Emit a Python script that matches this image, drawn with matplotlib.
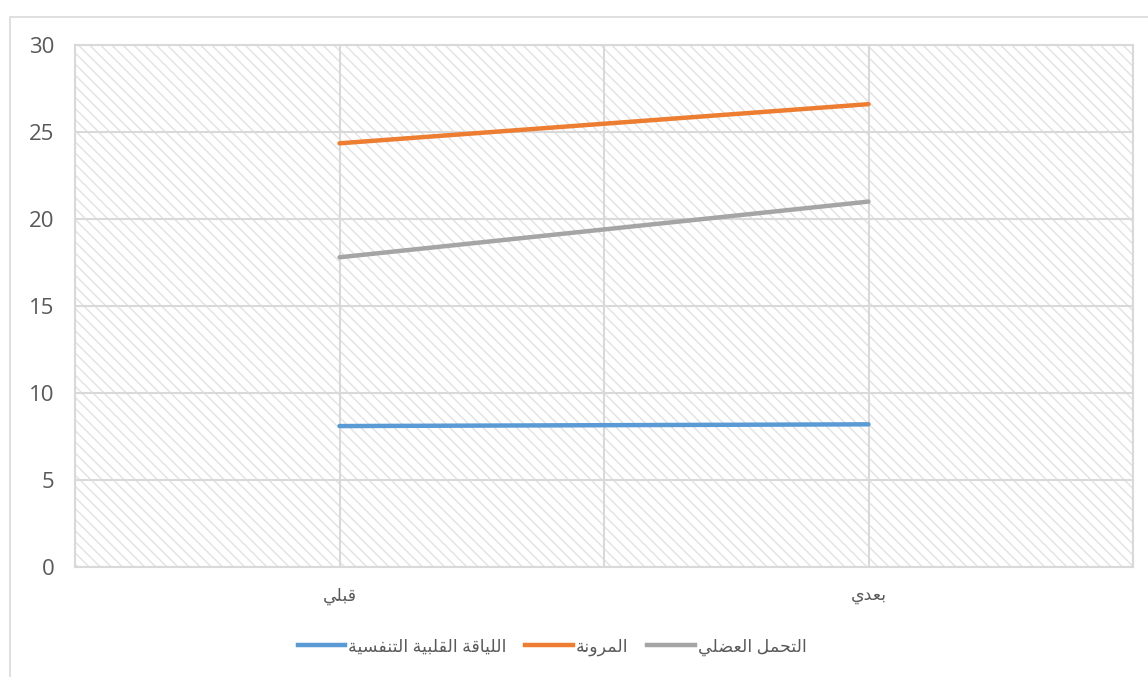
import numpy as np
import matplotlib
matplotlib.use('Agg')
import matplotlib.pyplot as plt
from matplotlib.patches import Rectangle

# data
categories = ['قبلي', 'بعدي']
series_names = ['اللياقة القلبية التنفسية', 'المرونة', 'التحمل العضلي']
cardio = [8.1, 8.2]
flexibility = [24.35, 26.6]
endurance = [17.8, 21.0]
colors = ['#5B9BD5', '#ED7D31', '#A5A5A5']

# minimal arabic shaping (presentation forms, visual order)
FORMS = {
    'ا': ('\ufe8d', '\ufe8e', None, None),
    'ب': ('\ufe8f', '\ufe90', '\ufe91', '\ufe92'),
    'ة': ('\ufe93', '\ufe94', None, None),
    'ت': ('\ufe95', '\ufe96', '\ufe97', '\ufe98'),
    'ح': ('\ufea1', '\ufea2', '\ufea3', '\ufea4'),
    'د': ('\ufea9', '\ufeaa', None, None),
    'ر': ('\ufead', '\ufeae', None, None),
    'س': ('\ufeb1', '\ufeb2', '\ufeb3', '\ufeb4'),
    'ض': ('\ufebd', '\ufebe', '\ufebf', '\ufec0'),
    'ع': ('\ufec9', '\ufeca', '\ufecb', '\ufecc'),
    'ف': ('\ufed1', '\ufed2', '\ufed3', '\ufed4'),
    'ق': ('\ufed5', '\ufed6', '\ufed7', '\ufed8'),
    'ل': ('\ufedd', '\ufede', '\ufedf', '\ufee0'),
    'م': ('\ufee1', '\ufee2', '\ufee3', '\ufee4'),
    'ن': ('\ufee5', '\ufee6', '\ufee7', '\ufee8'),
    'و': ('\ufeed', '\ufeee', None, None),
    'ي': ('\ufef1', '\ufef2', '\ufef3', '\ufef4'),
}


def shape(text):
    out = []
    for i, ch in enumerate(text):
        if ch not in FORMS:
            out.append(ch)
            continue
        prev = text[i - 1] if i > 0 else ''
        nxt = text[i + 1] if i + 1 < len(text) else ''
        jp = prev in FORMS and FORMS[prev][2] is not None
        jn = FORMS[ch][2] is not None and nxt in FORMS
        iso, fin, ini, med = FORMS[ch]
        if jp and jn:
            out.append(med)
        elif jp:
            out.append(fin)
        elif jn:
            out.append(ini)
        else:
            out.append(iso)
    return ''.join(reversed(out))


plt.rcParams['font.family'] = ['Open Sans', 'DejaVu Sans']
plt.rcParams['hatch.linewidth'] = 1.0
grey_txt = '#595959'
grid_c = '#d9d9d9'

fig = plt.figure(figsize=(11.48, 6.77), dpi=100)
ax = fig.add_axes([75 / 1148, 110 / 677, 1058 / 1148, 522 / 677])

# hatched plot area
ax.add_patch(Rectangle((0, 0), 1, 1, transform=ax.transAxes, facecolor='white',
                       edgecolor='#e2e2e2', hatch='\\\\\\', lw=0, zorder=0))

x = np.arange(len(categories))
for vals, c in zip([cardio, flexibility, endurance], colors):
    ax.plot(x, vals, color=c, lw=3.2, solid_capstyle='round', zorder=3)

ax.set_xlim(-0.5, len(categories) - 0.5)
ax.set_ylim(0, 30)
ax.set_yticks(np.arange(0, 31, 5))
ax.set_xticks(x)
ax.set_xticklabels([shape(c) for c in categories])
ax.set_xticks(np.arange(-0.5, len(categories), 1), minor=True)
ax.grid(axis='y', color=grid_c, lw=1.5)
ax.grid(axis='x', which='both', color=grid_c, lw=1.5)
ax.tick_params(which='both', length=0)
ax.tick_params(axis='y', pad=15, labelsize=16, labelcolor=grey_txt)
ax.tick_params(axis='x', pad=15, labelsize=12.5, labelcolor=grey_txt)
for s in ax.spines.values():
    s.set_color(grid_c)
    s.set_linewidth(1.5)

handles = [plt.Line2D([], [], color=c, lw=3.2) for c in colors]
fig.legend(handles, [shape(n) for n in series_names], ncol=3, frameon=False,
           loc='center', bbox_to_anchor=(552 / 1148, 1 - 647 / 677),
           fontsize=12.5, labelcolor=grey_txt, handlelength=2.75,
           handletextpad=0.15, columnspacing=1.1)

# outer chart border
fig.patches.append(Rectangle((10 / 1148, -0.1), 1.2, 1.1 - 17 / 677,
                             transform=fig.transFigure, fill=False,
                             edgecolor=grid_c, lw=1.2))

fig.savefig('out.png', dpi=100)
